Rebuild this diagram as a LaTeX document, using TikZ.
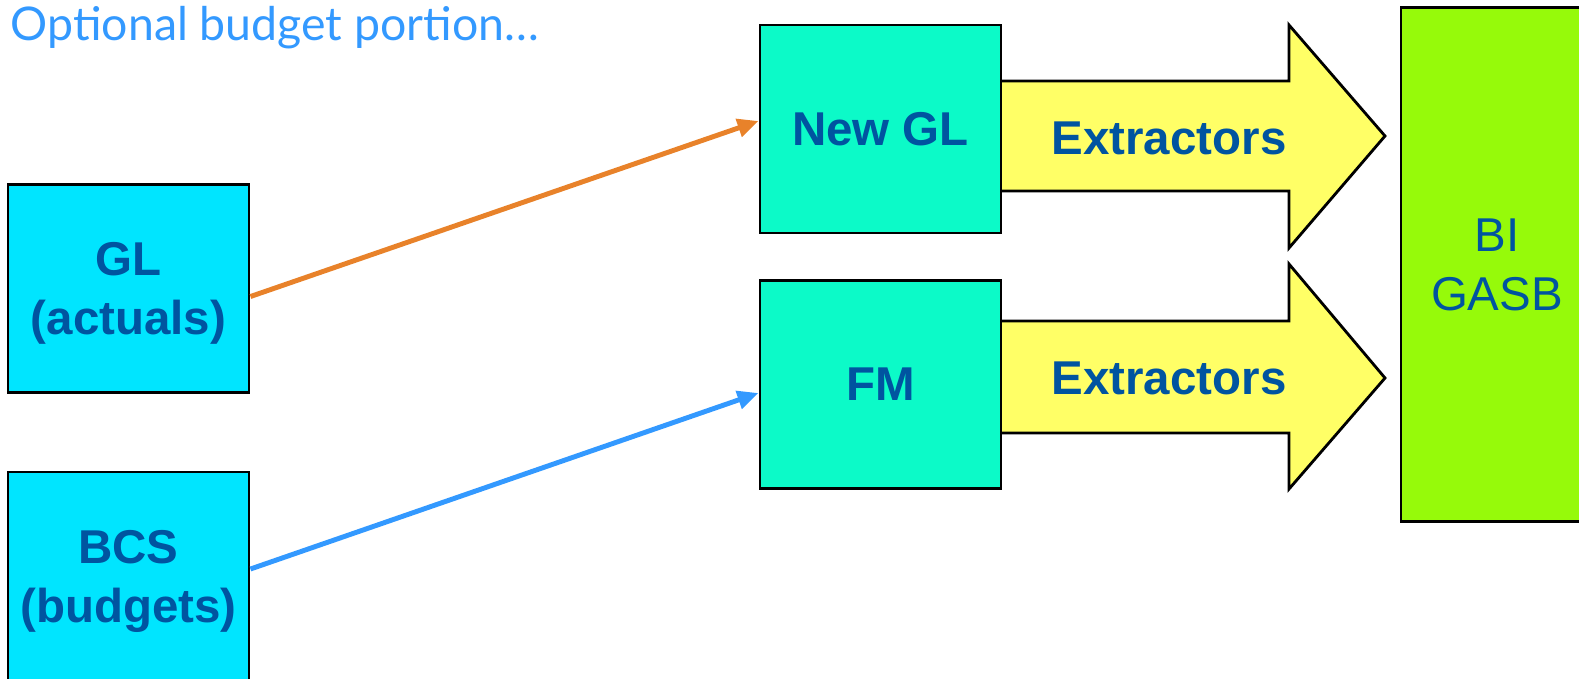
\documentclass[tikz,border=0pt]{standalone}
\usepackage{fontspec}
\setmainfont{Liberation Sans}
\newfontfamily\titlefont{Lato}
\usetikzlibrary{arrows.meta,positioning}
\definecolor{txtblue}{RGB}{0,84,160}
\definecolor{ttlblue}{RGB}{51,153,255}
\definecolor{srccyan}{RGB}{0,229,255}
\definecolor{sapgreen}{RGB}{12,250,200}
\definecolor{extyellow}{RGB}{255,255,102}
\definecolor{bigreen}{RGB}{150,250,10}
\definecolor{lineorange}{RGB}{232,130,42}
\definecolor{lineblue}{RGB}{51,153,255}

\begin{document}
\begin{tikzpicture}[x=0.01cm,y=-0.01cm,>={Triangle[length=0.21cm,width=0.18cm]},
  box/.style={draw,line width=0.8pt,minimum width=2.41cm,minimum height=2.08cm,align=center,
    text depth=-0.06cm,text=txtblue,font=\fontsize{13.5}{16.8}\selectfont\bfseries},
  blockarrow/.style={draw,line width=0.8pt,fill=extyellow,line join=miter}]
\useasboundingbox (0,0) rectangle (1579,678);
\clip (0,0) rectangle (1579,678);
% extractor arrows
\filldraw[blockarrow] (990,81) -- (1289,81) -- (1289,25) -- (1385,136) -- (1289,248) -- (1289,191) -- (990,191);
\filldraw[blockarrow] (990,321) -- (1289,321) -- (1289,264) -- (1385,378) -- (1289,489) -- (1289,433) -- (990,433);
\node[text=txtblue,font=\fontsize{13.5}{16.5}\selectfont\bfseries] (ext1) at (1169,138) {Extractors};
\node[text=txtblue,font=\fontsize{13.5}{16.5}\selectfont\bfseries] (ext2) at (1169,378) {Extractors};
% boxes
\node[box,fill=srccyan] (gl) at (128.5,288.5) {GL\\(actuals)};
\node[box,fill=srccyan] (bcs) at (128.5,576) {BCS\\(budgets)};
\node[box,fill=sapgreen] (newgl) at (880.5,129) {New GL};
\node[box,fill=sapgreen] (fm) at (880.5,384.5) {FM};
\node[box,fill=bigreen,minimum width=1.92cm,minimum height=5.13cm,font=\fontsize{13.5}{16.8}\selectfont] (bi) at (1497,264.5) {BI\\GASB};
\node[anchor=base west,inner sep=0pt,text=ttlblue,font=\titlefont\fontsize{13.2}{15}\selectfont] (title) at (10,40) {Optional budget portion\dots};
% connectors
\draw[->,lineorange,line width=1.4pt] ([yshift=-0.08cm]gl.east) -- ([yshift=0.08cm]newgl.west);
\draw[->,lineblue,line width=1.4pt] ([yshift=0.07cm]bcs.east) -- ([yshift=-0.085cm]fm.west);
\end{tikzpicture}
\end{document}
